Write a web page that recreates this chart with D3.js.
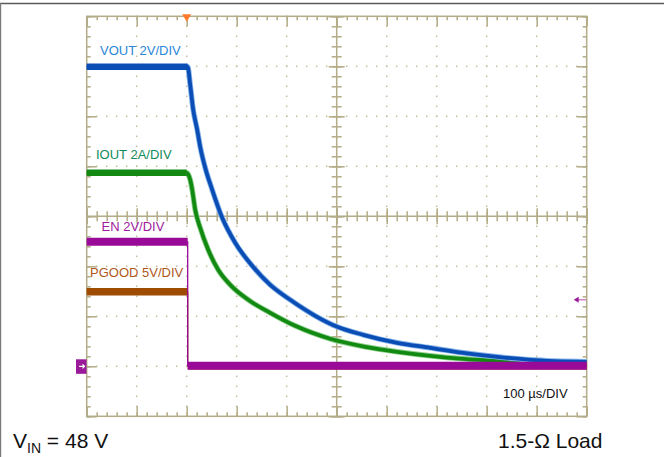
<!DOCTYPE html>
<html>
<head>
  <script src="https://cdn.jsdelivr.net/npm/d3@7"></script>
  <style>
    body { margin: 0; background: #fff; }
    text { font-family: "Liberation Sans", Arial, sans-serif; }
  </style>
</head>
<body>
  <svg width="664" height="457" id="mainsvg"></svg>
  <script>
      // scope readings: time in µs (100 µs/div), level in screen divisions (0 = centre line)
      const voutTrace = [[-200, 2.99], [2, 2.99], [7, 2.63], [13, 2.13], [21, 1.73], [27, 1.39], [37, 0.97],
        [51, 0.53], [71, -0.03], [97, -0.53], [131, -0.99], [167, -1.37], [207, -1.67], [257, -1.99],
        [301, -2.21], [353, -2.37], [421, -2.53], [487, -2.63], [553, -2.73], [621, -2.81], [687, -2.87], [800, -2.91]];
      const ioutTrace = [[-200, 0.87], [0, 0.87], [7, 0.73], [11, 0.53], [17, 0.13], [27, -0.23], [43, -0.67],
        [63, -1.07], [87, -1.37], [123, -1.67], [167, -1.93], [217, -2.19], [287, -2.45], [357, -2.61],
        [421, -2.71], [487, -2.79], [553, -2.85], [647, -2.90], [800, -2.93]];
      const enTrace = [[-200, -0.51], [2, -0.51], [2, -2.99], [800, -2.99]];
      const pgoodTrace = [[-200, -1.51], [2, -1.51], [2, -2.99], [800, -2.99]];

      const channelLabels = ['VOUT 2V/DIV', 'IOUT 2A/DIV', 'EN 2V/DIV', 'PGOOD 5V/DIV'];
      const timeBase = '100 \u00b5s/DIV';
      const loadLabel = '1.5-\u03a9 Load';

      const svg = d3.select('svg');
      const plot = {left: 86.7, top: 16.3, width: 500, height: 400};
      const xScale = d3.scaleLinear().domain([-200, 800]).range([plot.left, plot.left + plot.width]);
      const yScale = d3.scaleLinear().domain([-4, 4]).range([plot.top + plot.height, plot.top]);
      const gridColor = '#b3ac88';

      // outer frame
      svg.append('line').attr('x1', 0).attr('x2', 664).attr('y1', 3.5).attr('y2', 3.5)
        .attr('stroke', '#5a5a5a').attr('stroke-width', 1.6);
      svg.append('line').attr('x1', 0.6).attr('x2', 0.6).attr('y1', 3).attr('y2', 457)
        .attr('stroke', '#7a7a7a').attr('stroke-width', 1.2);

      const grid = svg.append('g');
      const majorT = d3.range(-200, 801, 100);
      const minorT = d3.range(-200, 801, 20);
      const majorV = d3.range(-4, 5, 1);
      const minorV = d3.range(-20, 21).map(d => d / 5);

      // dotted graticule
      majorT.filter(t => t !== -200 && t !== 300 && t !== 800).forEach(t => {
        grid.selectAll(null).data(minorV).join('rect')
          .attr('x', xScale(t) - 0.75).attr('y', d => yScale(d) - 0.75)
          .attr('width', 1.5).attr('height', 1.5).attr('fill', '#c4bd9f');
      });
      majorV.filter(v => v !== -4 && v !== 0 && v !== 4).forEach(v => {
        grid.selectAll(null).data(minorT).join('rect')
          .attr('x', d => xScale(d) - 0.75).attr('y', yScale(v) - 0.75)
          .attr('width', 1.5).attr('height', 1.5).attr('fill', '#c4bd9f');
      });

      function tickAxis(axis, transform, size, values, both) {
        const g = grid.append('g').attr('transform', transform)
          .call(axis.tickValues(values).tickSize(size).tickFormat(''));
        g.select('.domain').remove();
        g.selectAll('.tick line').attr('stroke', gridColor).attr('stroke-width', 1.5);
        if (both) {
          g.selectAll('.tick line').each(function () {
            const l = d3.select(this);
            if (l.attr('y2') !== null && +l.attr('y2') !== 0) l.attr('y1', -size);
            if (l.attr('x2') !== null && +l.attr('x2') !== 0) l.attr('x1', -size);
          });
        }
      }
      const cx = xScale(300), cy = yScale(0);
      const bottomY = yScale(-4), rightX = xScale(800);
      // border ticks
      tickAxis(d3.axisBottom(xScale), `translate(0,${plot.top})`, 4, minorT);
      tickAxis(d3.axisBottom(xScale), `translate(0,${plot.top})`, 10, majorT);
      tickAxis(d3.axisTop(xScale), `translate(0,${bottomY})`, 4, minorT);
      tickAxis(d3.axisTop(xScale), `translate(0,${bottomY})`, 10, majorT);
      tickAxis(d3.axisRight(yScale), `translate(${plot.left},0)`, 4, minorV);
      tickAxis(d3.axisRight(yScale), `translate(${plot.left},0)`, 10, majorV);
      tickAxis(d3.axisLeft(yScale), `translate(${rightX},0)`, 4, minorV);
      tickAxis(d3.axisLeft(yScale), `translate(${rightX},0)`, 10, majorV);
      // centre cross ticks
      tickAxis(d3.axisBottom(xScale), `translate(0,${cy})`, 5, minorT, true);
      tickAxis(d3.axisBottom(xScale), `translate(0,${cy})`, 8, majorT, true);
      tickAxis(d3.axisRight(yScale), `translate(${cx},0)`, 5, minorV, true);
      tickAxis(d3.axisRight(yScale), `translate(${cx},0)`, 8, majorV, true);

      grid.append('line').attr('x1', plot.left).attr('x2', rightX).attr('y1', cy).attr('y2', cy)
        .attr('stroke', gridColor).attr('stroke-width', 1.5);
      grid.append('line').attr('x1', cx).attr('x2', cx).attr('y1', plot.top).attr('y2', bottomY)
        .attr('stroke', gridColor).attr('stroke-width', 1.5);
      grid.append('rect').attr('x', plot.left).attr('y', plot.top)
        .attr('width', plot.width).attr('height', plot.height)
        .attr('fill', 'none').attr('stroke', gridColor).attr('stroke-width', 1.5);

      // traces
      const line = d3.line().x(d => xScale(d[0])).y(d => yScale(d[1])).curve(d3.curveMonotoneX);
      const stepLine = d3.line().x(d => xScale(d[0])).y(d => yScale(d[1]));
      const traces = svg.append('g');

      function flatParts(data) {
        const parts = [];
        for (let i = 1; i < data.length; i++) {
          if (data[i][1] === data[i - 1][1]) parts.push([data[i - 1], data[i]]);
        }
        return parts;
      }
      function drawSmooth(data, core, halo) {
        traces.append('path').attr('d', line(data)).attr('fill', 'none')
          .attr('stroke', halo).attr('stroke-width', 5.5).attr('stroke-linejoin', 'round');
        traces.append('path').attr('d', line(data)).attr('fill', 'none')
          .attr('stroke', core).attr('stroke-width', 3.8).attr('stroke-linejoin', 'round');
        flatParts(data).forEach(p => {
          traces.append('path').attr('d', stepLine(p)).attr('fill', 'none')
            .attr('stroke', core).attr('stroke-width', 6.5);
        });
      }
      function drawStep(data, core, thick) {
        traces.append('path').attr('d', stepLine(data)).attr('fill', 'none')
          .attr('stroke', core).attr('stroke-width', 1.3);
        flatParts(data).forEach(p => {
          traces.append('path').attr('d', stepLine(p)).attr('fill', 'none')
            .attr('stroke', core).attr('stroke-width', thick);
        });
      }
      drawSmooth(ioutTrace, '#128a12', '#8ed08e');
      drawSmooth(voutTrace, '#0a4db4', '#86b3ea');
      drawStep(pgoodTrace, '#a04c00', 7.5);
      drawStep(enTrace, '#990a99', 8);

      // markers
      const trigX = xScale(0);
      svg.append('path').attr('d', `M${trigX - 4.5},${plot.top - 2} L${trigX + 4.5},${plot.top - 2} L${trigX},${plot.top + 5.5} Z`)
        .attr('fill', '#ff7a2a');
      const gndY = yScale(-3);
      svg.append('rect').attr('x', 76).attr('y', gndY - 7).attr('width', 10.5).attr('height', 14.5)
        .attr('fill', '#9a1a9a');
      svg.append('path').attr('d', `M79,${gndY} L85,${gndY} M82.5,${gndY - 2} L84.5,${gndY} L82.5,${gndY + 2}`)
        .attr('stroke', '#fff').attr('stroke-width', 1.2).attr('fill', 'none');
      const armY = yScale(-1.67);
      svg.append('path').attr('d', `M${rightX - 0.5},${armY} L${rightX - 10},${armY}`)
        .attr('stroke', '#c76ec7').attr('stroke-width', 1.3);
      svg.append('path').attr('d', `M${rightX - 13},${armY} L${rightX - 8},${armY - 3} L${rightX - 8},${armY + 3} Z`)
        .attr('fill', '#9a1a9a');

      // channel labels
      const labelPos = [[100, 55, '#2a86d6'], [96, 159, '#128a5a'], [101.5, 231, '#a01aa0'], [90, 277, '#b0581a']];
      svg.selectAll('.chlabel').data(channelLabels).join('text').attr('class', 'chlabel')
        .attr('x', (d, i) => labelPos[i][0]).attr('y', (d, i) => labelPos[i][1])
        .attr('fill', (d, i) => labelPos[i][2]).attr('font-size', 13).text(d => d);
      svg.append('text').attr('x', 503).attr('y', 398).attr('font-size', 13).attr('fill', '#111').text(timeBase);

      const vin = svg.append('text').attr('x', 13).attr('y', 448).attr('font-size', 21).attr('fill', '#111');
      vin.append('tspan').text('V');
      vin.append('tspan').attr('font-size', 14).attr('dy', 5).text('IN');
      vin.append('tspan').attr('dy', -5).text(' = 48 V');
      svg.append('text').attr('x', 498).attr('y', 448).attr('font-size', 21).attr('fill', '#111').text(loadLabel);
  </script>
</body>
</html>
